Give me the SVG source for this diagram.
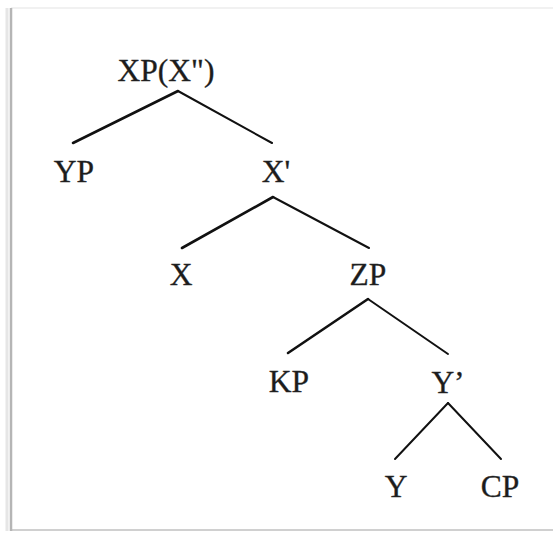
<svg xmlns="http://www.w3.org/2000/svg" width="553" height="533" viewBox="0 0 553 533">
  <defs>
    <style>
      .lbl { font-family: "Liberation Serif", "Times New Roman", serif; font-size: 31.5px; fill: #1c1c1c; stroke: #2a2a2a; stroke-width: 0.35; text-anchor: middle; }
      .edge { stroke: #111; stroke-width: 2; fill: none; stroke-linecap: round; }
      .thick { stroke-width: 2.6; }
    </style>
  </defs>
  <rect x="0" y="0" width="553" height="533" fill="#ffffff"/>
  <g id="frame">
    <line x1="11" y1="8" x2="553" y2="8" stroke="#ececec" stroke-width="1.5"/>
    <line x1="11" y1="530" x2="553" y2="530" stroke="#d0d0d0" stroke-width="2"/>
    <line x1="11" y1="8" x2="11" y2="531" stroke="#b5b5b5" stroke-width="2.5"/>
    <line x1="7" y1="8" x2="7" y2="531" stroke="#e6e6e6" stroke-width="3"/>
  </g>
  <g id="connectors">
    <line class="edge thick" x1="178" y1="91" x2="73" y2="143"/>
    <line class="edge" x1="178" y1="91" x2="272" y2="143"/>
    <line class="edge thick" x1="273" y1="197" x2="182" y2="248"/>
    <line class="edge" x1="273" y1="197" x2="369" y2="248"/>
    <line class="edge thick" x1="368" y1="299" x2="288" y2="353"/>
    <line class="edge" x1="368" y1="299" x2="448" y2="354"/>
    <line class="edge" x1="448" y1="403" x2="395" y2="459"/>
    <line class="edge" x1="448" y1="403" x2="501" y2="459"/>
  </g>
  <g id="XP"><text class="lbl" x="166" y="81">XP(X")</text></g>
  <g id="YP"><text class="lbl" x="74" y="182">YP</text></g>
  <g id="Xbar"><text class="lbl" x="276" y="182">X'</text></g>
  <g id="X"><text class="lbl" x="181" y="285">X</text></g>
  <g id="ZP"><text class="lbl" x="368" y="285">ZP</text></g>
  <g id="KP"><text class="lbl" x="289" y="392">KP</text></g>
  <g id="Ybar"><text class="lbl" x="448" y="393">Y’</text></g>
  <g id="Y"><text class="lbl" x="396" y="497">Y</text></g>
  <g id="CP"><text class="lbl" x="500" y="497">CP</text></g>
</svg>
